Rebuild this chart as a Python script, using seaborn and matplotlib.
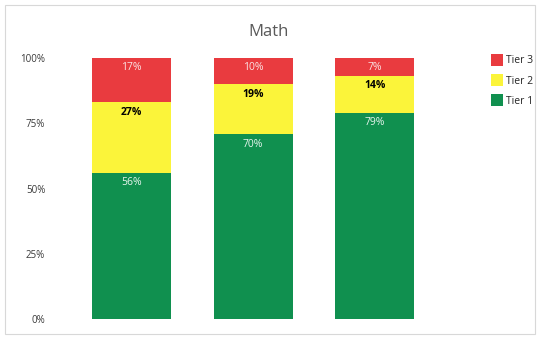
import numpy as np
import pandas as pd
import matplotlib as mpl
mpl.use('Agg')
import matplotlib.pyplot as plt
import matplotlib.patches as mpatches
from matplotlib.lines import Line2D
import seaborn as sns

# values (percent of students in each tier)
groups = ['A', 'B', 'C']
tier1 = [56, 70, 79]
tier2 = [27, 19, 14]
tier3 = [17, 10, 7]
tier_names = ['Tier 1', 'Tier 2', 'Tier 3']
tier_colors = ['#10904f', '#fbf43a', '#e93b3f']
label_colors = ['#e8f5ee', '#000000', '#fbe3e3']

sns.set_style('white')
plt.rcParams['font.family'] = ['Open Sans', 'DejaVu Sans']

df = pd.DataFrame({'group': groups, 'Tier 1': tier1, 'Tier 2': tier2, 'Tier 3': tier3})
# 100% stacked: shares of each bar's total, drawn as overlapping cumulative bars
total = df['Tier 1'] + df['Tier 2'] + df['Tier 3']
df['top1'] = df['Tier 1'] / total
df['top2'] = (df['Tier 1'] + df['Tier 2']) / total
df['top3'] = total / total

fig = plt.figure(figsize=(5.39, 3.38), dpi=100)
ax = fig.add_axes([55 / 539, 19 / 338, 395 / 539, 261 / 338])

for col, c in zip(['top3', 'top2', 'top1'], tier_colors[::-1]):
    sns.barplot(data=df, x='group', y=col, color=c, width=0.65, saturation=1,
                linewidth=0, ax=ax)

# value labels just inside the top of each segment
for i in range(len(groups)):
    tops = [df['top1'][i], df['top2'][i], df['top3'][i]]
    vals = [tier1[i], tier2[i], tier3[i]]
    for k in range(3):
        ax.annotate(f'{vals[k]}%', xy=(i, tops[k]), xytext=(0, -3),
                    textcoords='offset points', ha='center', va='top',
                    fontsize=7.5, color=label_colors[k],
                    fontweight='bold' if k == 1 else 'normal')

ax.set_xlim(-0.63, 2.62)
ax.set_ylim(0, 1)
ax.set_yticks([0, 0.25, 0.5, 0.75, 1.0])
ax.set_yticklabels(['0%', '25%', '50%', '75%', '100%'])
ax.tick_params(axis='y', length=0, pad=7, labelsize=7, labelcolor='#3a3a3a')
ax.set_xticks([])
ax.set_xlabel('')
ax.set_ylabel('')
sns.despine(ax=ax, left=True, bottom=True)

fig.text(269 / 539, 1 - 32 / 338, 'Math', ha='center', va='center',
         fontsize=12, color='#5a5a5a')

handles = [Line2D([], [], marker='s', linestyle='', markersize=8,
                  markerfacecolor=tier_colors[k], markeredgewidth=0)
           for k in [2, 1, 0]]
fig.legend(handles, [tier_names[k] for k in [2, 1, 0]], loc='upper left',
           bbox_to_anchor=(482 / 539, 1 - 46 / 338), frameon=False,
           fontsize=7.5, handletextpad=0.4, labelspacing=0.9, handlelength=1)

# light frame round the chart area
fig.patches.append(mpatches.Rectangle((5 / 539, 4 / 338), 530 / 539, 329 / 338,
                                      transform=fig.transFigure, fill=False,
                                      edgecolor='#d8d8d8', linewidth=0.8))

fig.savefig('out.png', dpi=100)
